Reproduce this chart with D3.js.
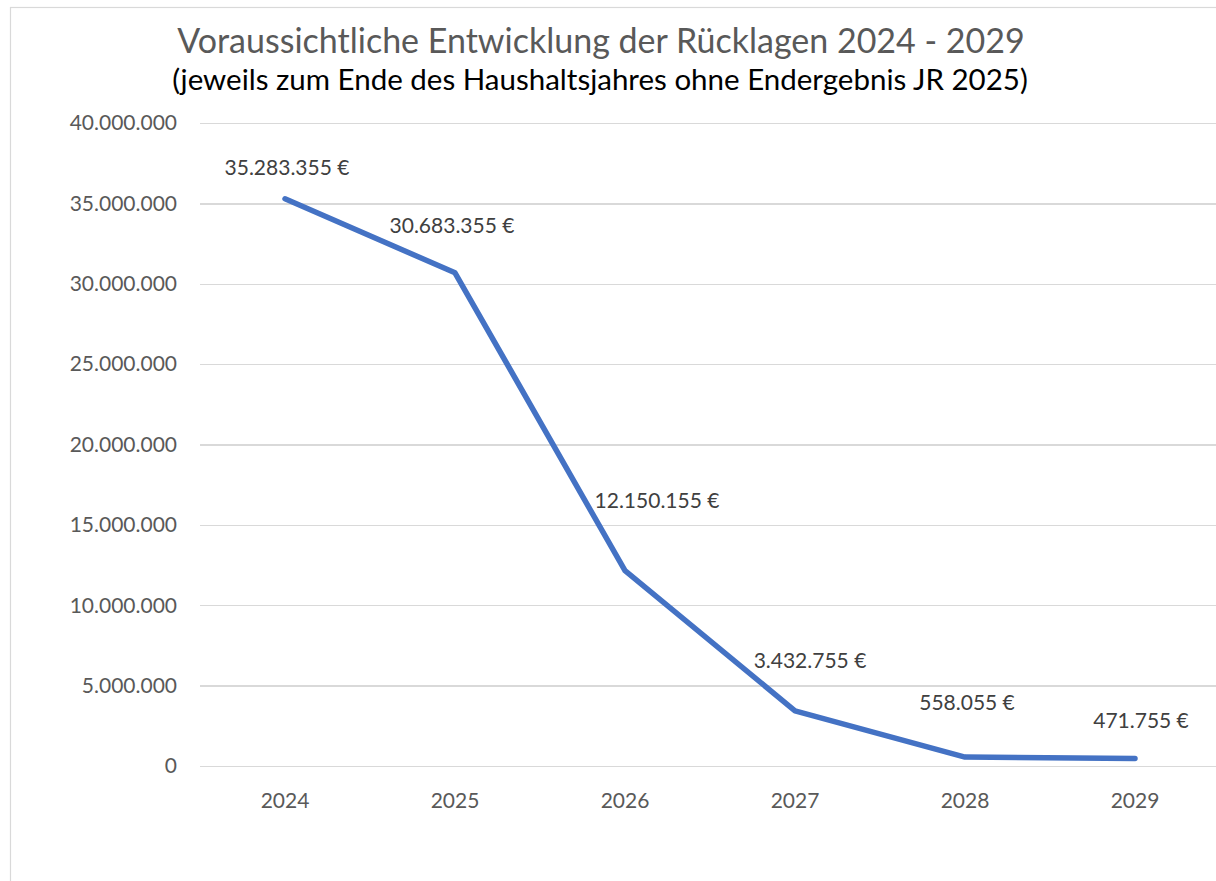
<!DOCTYPE html>
<html>
<head>
<meta charset="utf-8">
<script src="https://d3js.org/d3.v7.min.js"></script>
<style>
  body { margin: 0; background: #fff; }
  text { font-family: Lato, "Open Sans", sans-serif; }
  .grid line { stroke: #d9d9d9; stroke-width: 1.3; shape-rendering: crispEdges; }
  .grid path { display: none; }
</style>
</head>
<body>
<svg id="chart" width="1216" height="881"></svg>
<script>
// data
var years = ["2024", "2025", "2026", "2027", "2028", "2029"];
var reserves = [35283355, 30683355, 12150155, 3432755, 558055, 471755];
var yTicks = [0, 5000000, 10000000, 15000000, 20000000, 25000000, 30000000, 35000000, 40000000];

// label nudges (excel put them by hand)
var labelDx = [2, -3, 32, 15, 2, 6];
var labelDy = [-24, -40, -63, -43, -47, -30];

var svg = d3.select("#chart");

var plotLeft = 200, plotRight = 1220, plotTop = 123, plotBottom = 766;

var x = d3.scaleBand().domain(years).range([plotLeft, plotRight]);
var y = d3.scaleLinear().domain([0, 40000000]).range([plotBottom, plotTop]);

var fmt = function (v) {
    return d3.format(",")(v).replace(/,/g, ".");
};

// outer frame
svg.append("rect")
    .attr("x", 10.5).attr("y", 7.5)
    .attr("width", 1240).attr("height", 900)
    .attr("fill", "none")
    .attr("stroke", "#d9d9d9")
    .attr("stroke-width", 1.2);

// title
svg.append("text")
    .attr("x", 601).attr("y", 53)
    .attr("text-anchor", "middle")
    .attr("fill", "#595959")
    .style("font-size", "34px")
    .text("Voraussichtliche Entwicklung der Rücklagen 2024 - 2029");

svg.append("text")
    .attr("x", 600).attr("y", 90)
    .attr("text-anchor", "middle")
    .attr("fill", "#000")
    .style("font-size", "29.5px")
    .text("(jeweils zum Ende des Haushaltsjahres ohne Endergebnis JR 2025)");

// gridlines
svg.append("g")
    .attr("class", "grid")
    .attr("transform", "translate(" + plotLeft + ",0)")
    .call(d3.axisRight(y).tickValues(yTicks).tickSize(plotRight - plotLeft).tickFormat(""));

// y labels
svg.append("g")
    .selectAll("text")
    .data(yTicks)
    .join("text")
    .attr("x", 177)
    .attr("y", function (d) { return y(d); })
    .attr("dy", "0.35em")
    .attr("text-anchor", "end")
    .attr("fill", "#595959")
    .style("font-size", "21px")
    .text(function (d) { return fmt(d); });

// x labels
svg.append("g")
    .selectAll("text")
    .data(years)
    .join("text")
    .attr("x", function (d) { return x(d) + x.bandwidth() / 2; })
    .attr("y", 808)
    .attr("text-anchor", "middle")
    .attr("fill", "#595959")
    .style("font-size", "21px")
    .text(function (d) { return d; });

// line
var line = d3.line()
    .x(function (d, i) { return x(years[i]) + x.bandwidth() / 2; })
    .y(function (d) { return y(d); });

svg.append("path")
    .datum(reserves)
    .attr("d", line)
    .attr("fill", "none")
    .attr("stroke", "#4472c4")
    .attr("stroke-width", 5.5)
    .attr("stroke-linecap", "round")
    .attr("stroke-linejoin", "round");

// data labels
svg.append("g")
    .selectAll("text")
    .data(reserves)
    .join("text")
    .attr("x", function (d, i) { return x(years[i]) + x.bandwidth() / 2 + labelDx[i]; })
    .attr("y", function (d, i) { return y(d) + labelDy[i]; })
    .attr("text-anchor", "middle")
    .attr("fill", "#404040")
    .style("font-size", "21px")
    .text(function (d) { return fmt(d) + " €"; });
</script>
</body>
</html>
